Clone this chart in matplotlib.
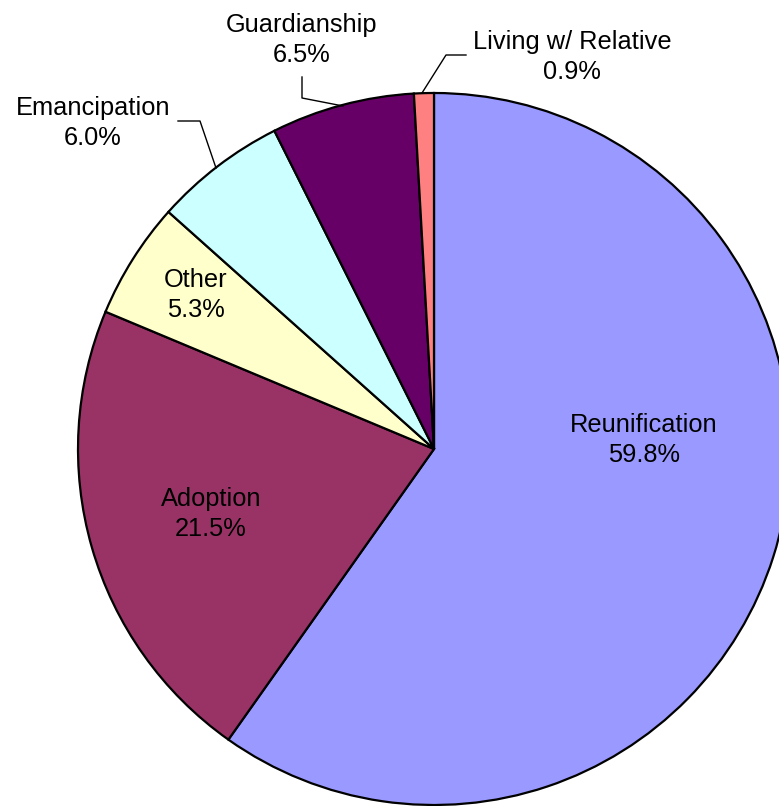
import matplotlib
matplotlib.use("Agg")
import matplotlib.pyplot as plt

# Data (clockwise from 12 o'clock)
categories = ["Reunification", "Adoption", "Other", "Emancipation", "Guardianship", "Living w/ Relative"]
shares = [59.8, 21.5, 5.3, 6.0, 6.5, 0.9]
colors = ["#9999FF", "#993366", "#FFFFCC", "#CCFFFF", "#660066", "#FF8080"]

W, H = 779, 806
fig = plt.figure(figsize=(W / 100, H / 100), dpi=100)
ax = fig.add_axes([0, 0, 1, 1])

def py(y):
    return H - y

cx, cy, r = 434, 449, 356
ax.pie(shares, colors=colors, startangle=90, counterclock=False,
       center=(cx, py(cy)), radius=r,
       wedgeprops=dict(edgecolor="black", linewidth=1.6))
ax.set_xlim(0, W)
ax.set_ylim(0, H)
ax.set_aspect("auto")
ax.axis("off")

# label positions (pixel layout)
label_pos = [(644, 440), (211, 514), (196, 295), (93, 123), (302, 40), (572, 57)]
for name, val, (x, y) in zip(categories, shares, label_pos):
    ax.text(x, py(y), f"{name}\n{val:.1f}%", ha="center", va="center",
            fontsize=18.3, family="Liberation Sans", linespacing=1.3, color="black")

# leader lines
leaders = [
    [(178, 121), (200, 121), (216, 168)],
    [(302, 77), (302, 98), (343, 106)],
    [(466, 55), (446, 55), (422, 93)],
]
for pts in leaders:
    xs = [p[0] for p in pts]
    ys = [py(p[1]) for p in pts]
    ax.plot(xs, ys, color="black", linewidth=1)

fig.savefig("out.png", dpi=100)
